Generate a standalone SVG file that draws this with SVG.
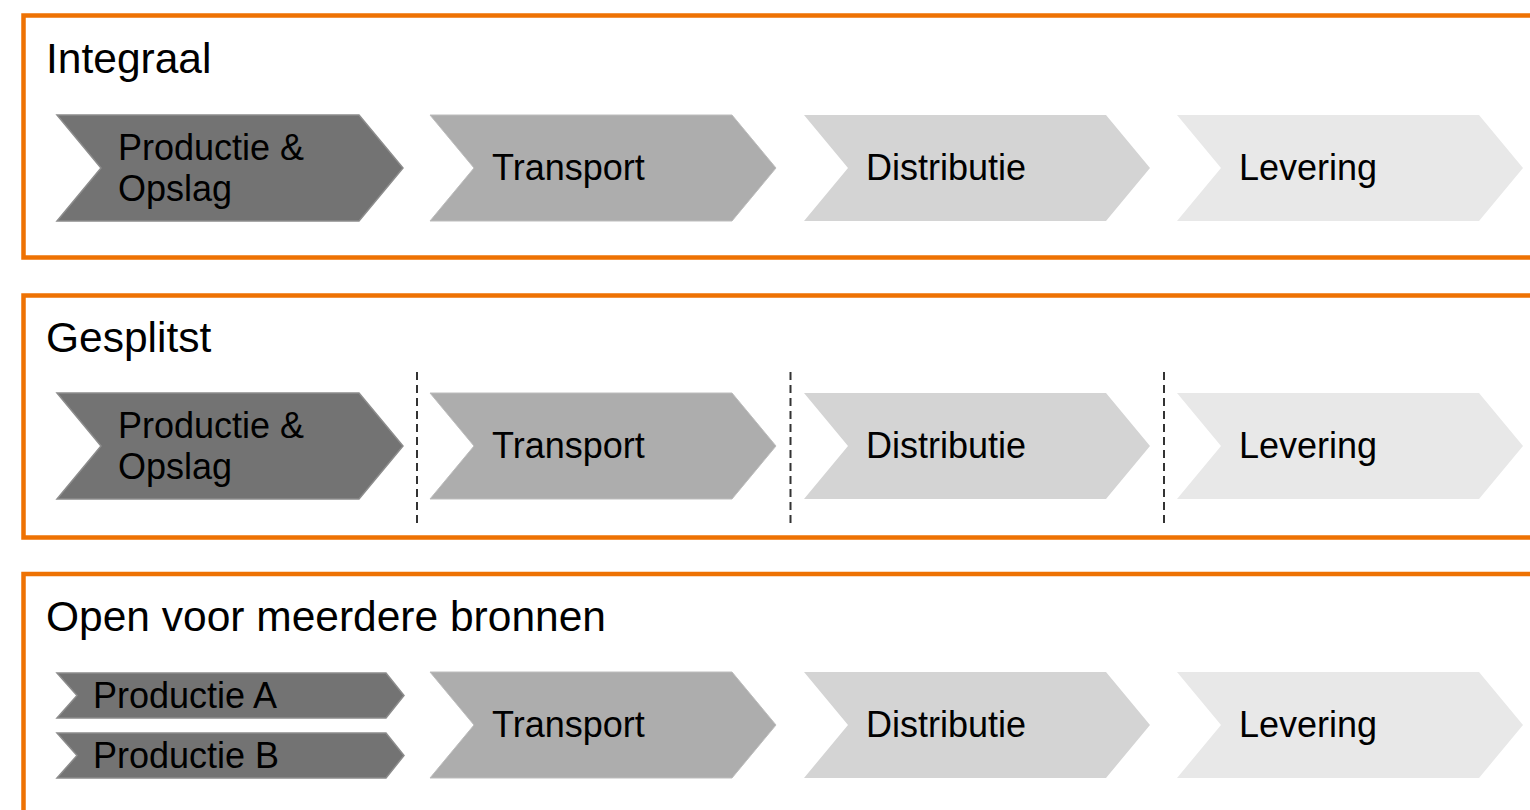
<svg xmlns="http://www.w3.org/2000/svg" xmlns:xlink="http://www.w3.org/1999/xlink" width="1530" height="810" viewBox="0 0 1530 810">
<style>
.frame{fill:none;stroke:#EE7203;stroke-width:4.5}
.title{font-family:"Liberation Sans",Arial,sans-serif;font-size:42.5px;fill:#000}
.lbl{font-family:"Liberation Sans",Arial,sans-serif;font-size:36px;fill:#000}
.c1{fill:#737373;stroke:#8c8c8c;stroke-width:1.5}
.c2{fill:#adadad;stroke:#bdbdbd;stroke-width:1}
.c3{fill:#d4d4d4}
.c4{fill:#e8e8e8}
.sep{stroke:#333;stroke-width:2;stroke-dasharray:8 5}
</style>
<defs>
<path id="chev" d="M0,0 L302,0 L346,53 L302,106 L0,106 L44,53 Z"/>
<path id="chevS" d="M0,0 L329,0 L347,22.5 L329,45 L0,45 L20,22.5 Z"/>
</defs>
<rect width="1530" height="810" fill="#fff"/>

<g id="frame-integraal">
<rect class="frame" x="23.5" y="15.5" width="1530" height="242"/>
<text class="title" x="46" y="72.5">Integraal</text>
</g>
<g id="frame-gesplitst">
<rect class="frame" x="23.5" y="295.5" width="1530" height="242"/>
<text class="title" x="46" y="352">Gesplitst</text>
</g>
<g id="frame-open">
<rect class="frame" x="23.5" y="574" width="1530" height="260"/>
<text class="title" x="46" y="631">Open voor meerdere bronnen</text>
</g>

<g id="row1">
<g id="r1-productie"><use xlink:href="#chev" class="c1" x="57" y="115"/><text class="lbl" x="118" y="160">Productie &amp;</text><text class="lbl" x="118" y="201">Opslag</text></g>
<g id="r1-transport"><use xlink:href="#chev" class="c2" x="430" y="115"/><text class="lbl" x="492" y="180">Transport</text></g>
<g id="r1-distributie"><use xlink:href="#chev" class="c3" x="804" y="115"/><text class="lbl" x="866" y="180">Distributie</text></g>
<g id="r1-levering"><use xlink:href="#chev" class="c4" x="1177" y="115"/><text class="lbl" x="1239" y="180">Levering</text></g>
</g>

<g id="row2">
<g id="r2-productie"><use xlink:href="#chev" class="c1" x="57" y="393"/><text class="lbl" x="118" y="438">Productie &amp;</text><text class="lbl" x="118" y="479">Opslag</text></g>
<g id="r2-transport"><use xlink:href="#chev" class="c2" x="430" y="393"/><text class="lbl" x="492" y="458">Transport</text></g>
<g id="r2-distributie"><use xlink:href="#chev" class="c3" x="804" y="393"/><text class="lbl" x="866" y="458">Distributie</text></g>
<g id="r2-levering"><use xlink:href="#chev" class="c4" x="1177" y="393"/><text class="lbl" x="1239" y="458">Levering</text></g>
</g>

<g id="connectors">
<line class="sep" x1="417" y1="372" x2="417" y2="524"/>
<line class="sep" x1="790.5" y1="372" x2="790.5" y2="524"/>
<line class="sep" x1="1164" y1="372" x2="1164" y2="524"/>
</g>

<g id="row3">
<g id="r3-productie-a"><use xlink:href="#chevS" class="c1" x="57" y="673"/><text class="lbl" x="93" y="708">Productie A</text></g>
<g id="r3-productie-b"><use xlink:href="#chevS" class="c1" x="57" y="733"/><text class="lbl" x="93" y="768">Productie B</text></g>
<g id="r3-transport"><use xlink:href="#chev" class="c2" x="430" y="672"/><text class="lbl" x="492" y="737">Transport</text></g>
<g id="r3-distributie"><use xlink:href="#chev" class="c3" x="804" y="672"/><text class="lbl" x="866" y="737">Distributie</text></g>
<g id="r3-levering"><use xlink:href="#chev" class="c4" x="1177" y="672"/><text class="lbl" x="1239" y="737">Levering</text></g>
</g>
</svg>
